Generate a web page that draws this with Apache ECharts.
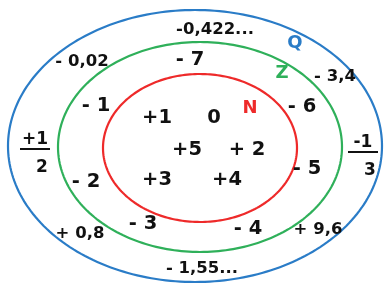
<!DOCTYPE html>
<html><head><meta charset="utf-8">
<script src="https://cdn.jsdelivr.net/npm/echarts@6/dist/echarts.min.js"></script>
<style>html,body{margin:0;padding:0;background:#fff}#c{width:387px;height:284px}</style>
</head><body><div id="c"></div>
<script>
// Sets (nested ellipses), in a 387 x 284 data space
const setNames = ['Q', 'Z', 'N'];
const setCenterX = [195, 200, 200];
const setCenterY = [146, 147, 148];
const setRadiusX = [187, 142, 97];
const setRadiusY = [136, 105, 74];
const setLabelX = [295, 282, 250];
const setLabelY = [43, 73, 108];

// Elements placed inside the sets
const elemText = ['-0,422...', '- 0,02', '- 3,4', '+ 0,8', '+ 9,6', '- 1,55...',
  '- 7', '- 1', '- 6', '- 2', '- 5', '- 3', '- 4',
  '+1', '0', '+5', '+ 2', '+3', '+4'];
const elemSet = ['Q', 'Q', 'Q', 'Q', 'Q', 'Q',
  'Z', 'Z', 'Z', 'Z', 'Z', 'Z', 'Z',
  'N', 'N', 'N', 'N', 'N', 'N'];
const elemX = [215, 82, 335, 80, 318, 202, 190, 96, 302, 86, 307, 143, 248, 157, 214, 187, 247, 157, 227];
const elemY = [30, 62, 77, 234, 230, 269, 60, 106, 107, 182, 169, 224, 229, 118, 118, 150, 150, 180, 180];

// Fractions (in Q only)
const fracNum = ['+1', '-1'];
const fracDen = ['2', '3'];
const fracX = [35, 363];
const fracY = [149, 152];

const setColor = { Q: '#2a7cc7', Z: '#2fb05a', N: '#ee2a2a' };
const FONT = '"DejaVu Sans", sans-serif';
const INK = '#111';

const chart = echarts.init(document.getElementById('c'), null, { renderer: 'canvas' });

const ellipseData = setNames.map((n, i) => [setCenterX[i], setCenterY[i], setRadiusX[i], setRadiusY[i], i]);

chart.setOption({
  animation: false,
  backgroundColor: '#fff',
  grid: { left: 0, right: 0, top: 0, bottom: 0 },
  xAxis: { type: 'value', min: 0, max: 387, show: false },
  yAxis: { type: 'value', min: 0, max: 284, inverse: true, show: false },
  series: [
    {
      type: 'custom',
      data: ellipseData,
      renderItem: function (params, api) {
        const cx = api.value(0), cy = api.value(1), rx = api.value(2), ry = api.value(3);
        const idx = api.value(4);
        const pts = [];
        for (let k = 0; k < 240; k++) {
          const t = k / 240 * Math.PI * 2;
          pts.push(api.coord([cx + rx * Math.cos(t), cy + ry * Math.sin(t)]));
        }
        return {
          type: 'polygon',
          shape: { points: pts },
          style: { fill: 'none', stroke: setColor[setNames[idx]], lineWidth: 2.2 }
        };
      },
      z: 1
    },
    {
      type: 'scatter',
      symbolSize: 0,
      itemStyle: { opacity: 1 },
      data: setNames.map((n, i) => ({ value: [setLabelX[i], setLabelY[i]], name: n, label: { color: setColor[n] } })),
      label: {
        show: true, position: 'inside', opacity: 1, textBorderWidth: 0,
        formatter: p => p.name,
        fontFamily: FONT, fontWeight: 'bold', fontSize: 18
      },
      z: 3
    },
    {
      type: 'scatter',
      symbolSize: 0,
      itemStyle: { opacity: 1 },
      data: elemText.map((t, i) => ({
        value: [elemX[i], elemY[i]], name: t,
        label: { fontSize: elemSet[i] === 'Q' ? 16.5 : 19.5 }
      })),
      label: {
        show: true, position: 'inside', opacity: 1, textBorderWidth: 0,
        formatter: p => p.name,
        fontFamily: FONT, fontWeight: 'bold', color: INK
      },
      z: 3
    },
    {
      type: 'custom',
      data: fracNum.map((n, i) => [fracX[i], fracY[i], i]),
      renderItem: function (params, api) {
        const p = api.coord([api.value(0), api.value(1)]);
        const i = api.value(2);
        return {
          type: 'group',
          children: [
            { type: 'text', style: { text: fracNum[i], x: p[0], y: p[1] - 1, align: 'center', verticalAlign: 'bottom',
              font: 'bold 17px ' + FONT, fill: INK } },
            { type: 'line', shape: { x1: p[0] - 15, y1: p[1], x2: p[0] + 15, y2: p[1] },
              style: { stroke: INK, lineWidth: 2 } },
            { type: 'text', style: { text: fracDen[i], x: p[0] + 7, y: p[1] + 10, align: 'center', verticalAlign: 'top',
              font: 'bold 17px ' + FONT, fill: INK } }
          ]
        };
      },
      z: 3
    }
  ]
});
</script></body></html>
